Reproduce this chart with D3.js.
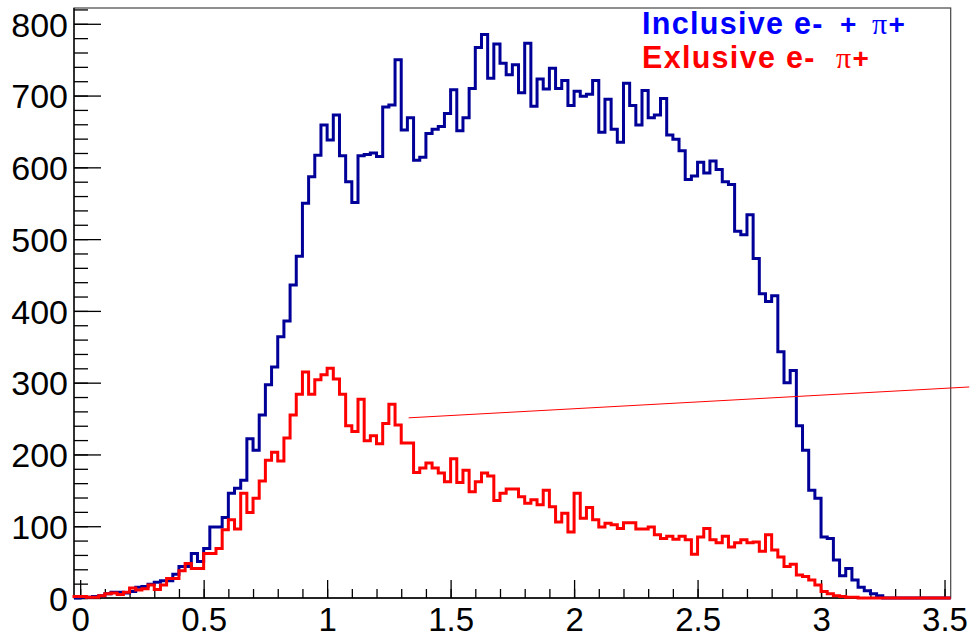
<!DOCTYPE html>
<html>
<head>
<meta charset="utf-8">
<script src="https://cdn.jsdelivr.net/npm/d3@7"></script>
<style>
  body { margin: 0; background: #fff; }
  svg text { font-family: 'Liberation Sans', Arial, Helvetica, sans-serif; }
</style>
</head>
<body>
<div id="chart"></div>
<script>

// histogram range: 142 bins of 0.025
var xMin = -0.025, xMax = 3.525;
var yMax = 822;

var inclusive = [
  0, 1, 1, 2, 3, 6, 8, 8, 7, 9,
  15, 16, 19, 22, 24, 24, 33, 44, 44, 62,
  51, 69, 99, 99, 112, 146, 153, 164, 222, 206,
  255, 297, 322, 364, 386, 436, 476, 550, 587, 617,
  659, 638, 673, 616, 580, 551, 616, 618, 620, 615,
  684, 687, 750, 652, 669, 610, 614, 647, 653, 657,
  675, 708, 651, 669, 710, 767, 785, 724, 772, 745,
  729, 743, 704, 773, 685, 723, 709, 738, 710, 721,
  686, 706, 699, 702, 721, 649, 695, 653, 635, 717,
  686, 659, 707, 669, 673, 696, 645, 639, 623, 583,
  588, 607, 592, 609, 597, 580, 576, 511, 506, 534,
  473, 424, 413, 421, 343, 300, 317, 240, 206, 150,
  139, 85, 83, 53, 31, 41, 25, 15, 10, 6,
  3, 0, 0, 0, 0, 0, 0, 0, 0, 0,
  0, 0
];

var exclusive = [
  2, 2, 1, 1, 3, 6, 7, 5, 8, 14,
  11, 13, 18, 12, 18, 27, 27, 38, 48, 41,
  41, 62, 62, 69, 95, 109, 96, 146, 119, 139,
  163, 192, 203, 191, 223, 255, 284, 315, 284, 304,
  311, 320, 305, 284, 240, 232, 277, 219, 226, 215,
  243, 270, 241, 216, 216, 175, 181, 188, 181, 174,
  162, 194, 161, 178, 148, 162, 174, 170, 136, 146,
  152, 152, 141, 132, 137, 130, 150, 127, 106, 118,
  92, 146, 111, 126, 109, 99, 104, 102, 97, 105,
  105, 96, 96, 99, 88, 83, 86, 82, 86, 81,
  61, 85, 97, 81, 77, 86, 71, 77, 81, 77,
  78, 65, 88, 67, 57, 44, 47, 32, 30, 25,
  18, 9, 6, 3, 2, 1, 1, 0, 0, 0,
  0, 0, 0, 0, 0, 0, 0, 0, 0, 0,
  0, 0
];

var xTicks = [0, 0.5, 1, 1.5, 2, 2.5, 3, 3.5];
var xTickLabels = ['0', '0.5', '1', '1.5', '2', '2.5', '3', '3.5'];
var yTicks = [0, 100, 200, 300, 400, 500, 600, 700, 800];

// stray TLine left on the canvas
var pointerLine = [[1.33, 251], [3.60, 294]];

var width = 970, height = 638;
var frame = {left: 74, right: 950.7, top: 8, bottom: 598};

var svg = d3.select('#chart')
  .append('svg')
  .attr('width', width)
  .attr('height', height);

var x = d3.scaleLinear().domain([xMin, xMax]).range([frame.left, frame.right]);
var y = d3.scaleLinear().domain([0, yMax]).range([frame.bottom, frame.top]);

// frame (top / right)
svg.append('rect')
  .attr('x', frame.left)
  .attr('y', frame.top)
  .attr('width', frame.right - frame.left)
  .attr('height', frame.bottom - frame.top)
  .attr('fill', 'none')
  .attr('stroke', '#444')
  .attr('stroke-width', 1.2);

// y axis: major + minor ticks pointing inward
var yMinorAxis = d3.axisLeft(y)
  .tickValues(d3.range(0, yMax, 20))
  .tickSize(-14)
  .tickFormat('');

var yMajorAxis = d3.axisLeft(y)
  .tickValues(yTicks)
  .tickSize(-27)
  .tickPadding(6)
  .tickFormat(d3.format('d'));

var gyMinor = svg.append('g')
  .attr('transform', 'translate(' + frame.left + ',0)')
  .call(yMinorAxis);

var gy = svg.append('g')
  .attr('transform', 'translate(' + frame.left + ',0)')
  .call(yMajorAxis);

// x axis
var xMinorAxis = d3.axisBottom(x)
  .tickValues(d3.range(0, 3.51, 0.1))
  .tickSize(-9)
  .tickFormat('');

var xMajorAxis = d3.axisBottom(x)
  .tickValues(xTicks)
  .tickSize(-18)
  .tickPadding(10)
  .tickFormat(function(d, i){ return xTickLabels[i]; });

var gxMinor = svg.append('g')
  .attr('transform', 'translate(0,' + frame.bottom + ')')
  .call(xMinorAxis);

var gx = svg.append('g')
  .attr('transform', 'translate(0,' + frame.bottom + ')')
  .call(xMajorAxis);

svg.selectAll('.domain').remove();
svg.selectAll('.tick line')
  .attr('stroke', '#000')
  .attr('stroke-width', 1.3);

gy.selectAll('text')
  .attr('font-size', 34)
  .attr('fill', '#000')
  .attr('dy', '0.36em');

gx.selectAll('text')
  .attr('font-size', 33)
  .attr('fill', '#000')
  .attr('dy', '0.71em');

// axis lines
svg.append('line')
  .attr('x1', frame.left).attr('x2', frame.left)
  .attr('y1', frame.top).attr('y2', frame.bottom)
  .attr('stroke', '#000').attr('stroke-width', 1.3);

svg.append('line')
  .attr('x1', frame.left).attr('x2', frame.right)
  .attr('y1', frame.bottom).attr('y2', frame.bottom)
  .attr('stroke', '#000').attr('stroke-width', 1.3);

// histogram outlines
function stepPoints(vals){
  var w = (xMax - xMin) / vals.length;
  var pts = [[xMin, 0]];
  vals.forEach(function(v, i){
    pts.push([xMin + i * w, v]);
    pts.push([xMin + (i + 1) * w, v]);
  });
  pts.push([xMax, 0]);
  return pts;
}

var line = d3.line()
  .x(function(d){ return x(d[0]); })
  .y(function(d){ return y(d[1]); });

svg.append('path')
  .datum(stepPoints(inclusive))
  .attr('d', line)
  .attr('fill', 'none')
  .attr('stroke', '#000099')
  .attr('stroke-width', 3)
  .attr('stroke-linejoin', 'miter');

svg.append('path')
  .datum(stepPoints(exclusive))
  .attr('d', line)
  .attr('fill', 'none')
  .attr('stroke', '#ff0000')
  .attr('stroke-width', 3)
  .attr('stroke-linejoin', 'miter');

svg.append('path')
  .datum(pointerLine)
  .attr('d', line)
  .attr('fill', 'none')
  .attr('stroke', '#ff0000')
  .attr('stroke-width', 1);

// legend text (TLatex style)
var legend = svg.append('g')
  .attr('font-weight', 'bold');

var l1 = legend.append('text')
  .attr('y', 34)
  .attr('fill', '#0000ff')
  .attr('font-size', 30.5)
  .attr('letter-spacing', 1.3);
l1.append('tspan').attr('x', 642).text('Inclusive e-');
l1.append('tspan').attr('x', 840).attr('font-size', 28).text('+');
l1.append('tspan').attr('x', 872).attr('font-family', "'Liberation Serif', 'DejaVu Serif', serif")
  .attr('font-weight', 'normal').attr('font-size', 30).text('\u03c0');
l1.append('tspan').attr('font-size', 28).text('+');

var l2 = legend.append('text')
  .attr('y', 68)
  .attr('fill', '#ff0000')
  .attr('font-size', 30.5)
  .attr('letter-spacing', 1.3);
l2.append('tspan').attr('x', 642).text('Exlusive e-');
l2.append('tspan').attr('x', 836).attr('font-family', "'Liberation Serif', 'DejaVu Serif', serif")
  .attr('font-weight', 'normal').attr('font-size', 30).text('\u03c0');
l2.append('tspan').attr('font-size', 28).text('+');

</script>
</body>
</html>
